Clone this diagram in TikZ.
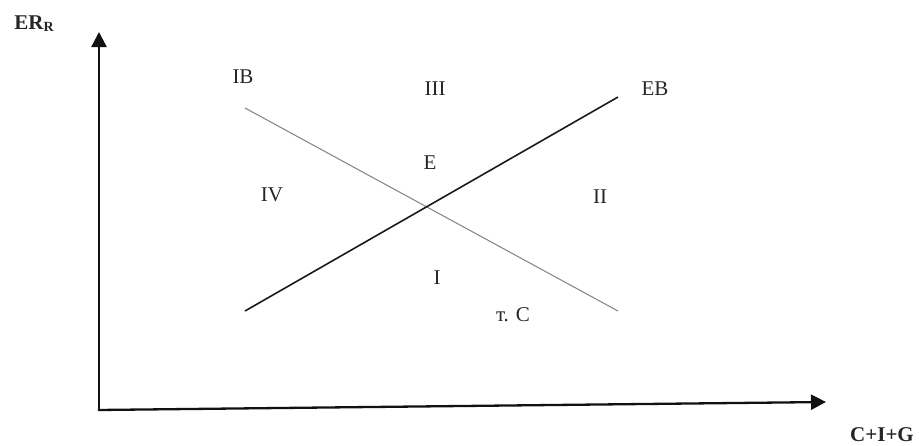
\documentclass[tikz,border=0pt]{standalone}
\usepackage{fontspec}
\setmainfont{Liberation Serif}
\usepackage{tikz}
\usetikzlibrary{arrows.meta,positioning,calc}
\definecolor{Laxis}{HTML}{111111}
\definecolor{Lib}{HTML}{8A8A8A}
\definecolor{Leb}{HTML}{1A1A1A}

\begin{document}
\begin{tikzpicture}[
  x=1pt, y=-1pt, >={Triangle[length=15pt,width=15pt]},
  axis/.style  ={->, line width=2.3pt, draw=Laxis},
  ibline/.style={line width=1.1pt, draw=Lib},
  ebline/.style={line width=1.6pt, draw=Leb},
  zone/.style  ={font=\fontsize{21}{24}\selectfont, inner sep=0pt, text=black!85},
  axlab/.style ={font=\fontsize{21}{24}\selectfont\bfseries, inner sep=0pt, text=black!85},
]
\useasboundingbox (0,0) rectangle (919,445);

% ── axes ─────────────────────────────────────────────────────────────
\coordinate (orig) at (99,410);
\coordinate (ytip) at (99,32);
\coordinate (xtip) at (826,402);
\draw[axis] (orig) -- (ytip);
\draw[axis] ($(orig)+(-1.1,0)$) -- (xtip);
\node[axlab] (ylab) at (34,24) {ER{\fontsize{14}{16}\selectfont\raisebox{-2pt}{R}}};
\node[axlab] (xlab) at (882,435) {C+I+G};

% ── balance lines ────────────────────────────────────────────────────
\coordinate (ibstart) at (245,108);
\coordinate (ibend)   at (618,311);
\coordinate (ebstart) at (245,311);
\coordinate (ebend)   at (618,97);
\draw[ibline] (ibstart) -- (ibend);
\draw[ebline] (ebstart) -- (ebend);

\node[zone] (ib) at (243,77) {IB};
\node[zone] (eb) at (655,89) {EB};

% ── zones ────────────────────────────────────────────────────────────
\node[zone] (z3) at (435,89)  {III};
\node[zone] (ze) at (430,163) {E};
\node[zone] (z4) at (272,195) {IV};
\node[zone] (z2) at (600,197) {II};
\node[zone] (z1) at (437,278) {I};
\node[zone] (pc) at (513,315) {т. С};

\end{tikzpicture}
\end{document}
